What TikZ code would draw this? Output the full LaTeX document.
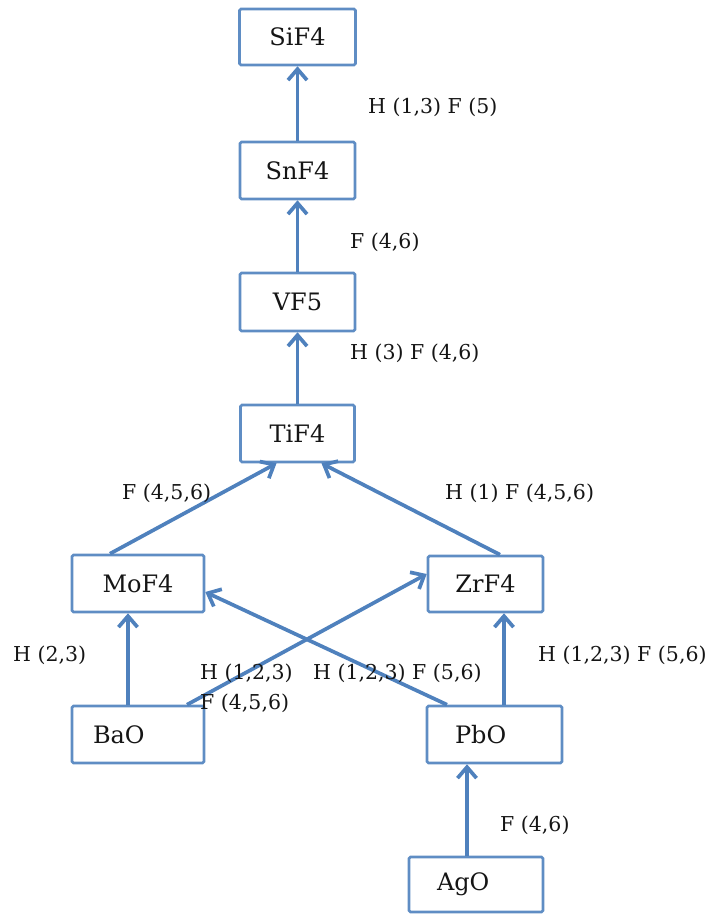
\documentclass[tikz,border=0pt]{standalone}
\usepackage{fontspec}
\setmainfont{DejaVu Serif}
\usetikzlibrary{arrows.meta,calc}
\definecolor{arrblue}{HTML}{4F81BD}
\definecolor{boxblue}{HTML}{5F8DC4}
\definecolor{txt}{HTML}{151515}
\tikzset{
  chem/.style={draw=boxblue, line width=2.6pt, rounded corners=1.5pt, minimum height=57pt,
    inner sep=0pt, text=txt, font=\fontsize{24}{28}\selectfont},
  lchem/.style={chem, align=left},
  conn/.style={draw=arrblue, line width=3.7pt, -{Straight Barb[length=11pt,width=19pt]}},
  lab/.style={anchor=west, inner sep=0pt, text=txt, font=\fontsize{20.5}{30}\selectfont, align=left}
}
\begin{document}
\begin{tikzpicture}[x=1pt,y=-1pt]
\useasboundingbox (0,0) rectangle (709,915);
% boxes
\node[chem, minimum width=116pt, minimum height=56pt] (sif) at (297.5,37) {SiF4};
\node[chem, minimum width=115pt] (snf) at (297.5,170.5) {SnF4};
\node[chem, minimum width=115pt, minimum height=58pt] (vf) at (297.5,302) {VF5};
\node[chem, minimum width=114pt] (tif) at (297.5,433.5) {TiF4};
\node[chem, minimum width=132pt] (mof) at (138,583.5) {MoF4};
\node[chem, minimum width=115pt, minimum height=56pt] (zrf) at (485.5,584) {ZrF4};
\node[lchem, text width=90pt, inner xsep=21pt] (bao) at (138,734.5) {BaO};
\node[lchem, text width=79pt, inner xsep=28pt] (pbo) at (494.5,734.5) {PbO};
\node[lchem, text width=78pt, inner xsep=28pt, minimum height=55pt] (ago) at (476,884.5) {AgO};
% connectors
\draw[conn] (snf.north) -- (sif.south);
\draw[conn] (vf.north) -- (snf.south);
\draw[conn] (tif.north) -- (vf.south);
\draw[conn] ([xshift=-28pt]mof.north) -- ([xshift=-21pt]tif.south);
\draw[conn] ([xshift=14.5pt]zrf.north) -- ([xshift=24pt]tif.south);
\draw[conn] ([xshift=-10pt]bao.north) -- ([xshift=-10pt]mof.south);
\draw[conn] ([xshift=49pt]bao.north) -- ([yshift=10pt]zrf.west);
\draw[conn] ([xshift=-47.5pt]pbo.north) -- ([yshift=-8.5pt]mof.east);
\draw[conn] ([xshift=9.5pt]pbo.north) -- ([xshift=18.5pt]zrf.south);
\draw[conn] ([xshift=-9pt]ago.north) -- ([xshift=-27.5pt]pbo.south);
% labels
\node[lab] (l1) at (368,107) {H (1,3) F (5)};
\node[lab] (l2) at (350,242) {F (4,6)};
\node[lab] (l3) at (350,353) {H (3) F (4,6)};
\node[lab] (l4) at (122,493) {F (4,5,6)};
\node[lab] (l5) at (445,493) {H (1) F (4,5,6)};
\node[lab] (l6) at (13,655) {H (2,3)};
\node[lab] (l7) at (200,688) {H (1,2,3)\\F (4,5,6)};
\node[lab] (l8) at (313,673) {H (1,2,3) F (5,6)};
\node[lab] (l9) at (538,655) {H (1,2,3) F (5,6)};
\node[lab] (l10) at (500,825) {F (4,6)};
\end{tikzpicture}
\end{document}
